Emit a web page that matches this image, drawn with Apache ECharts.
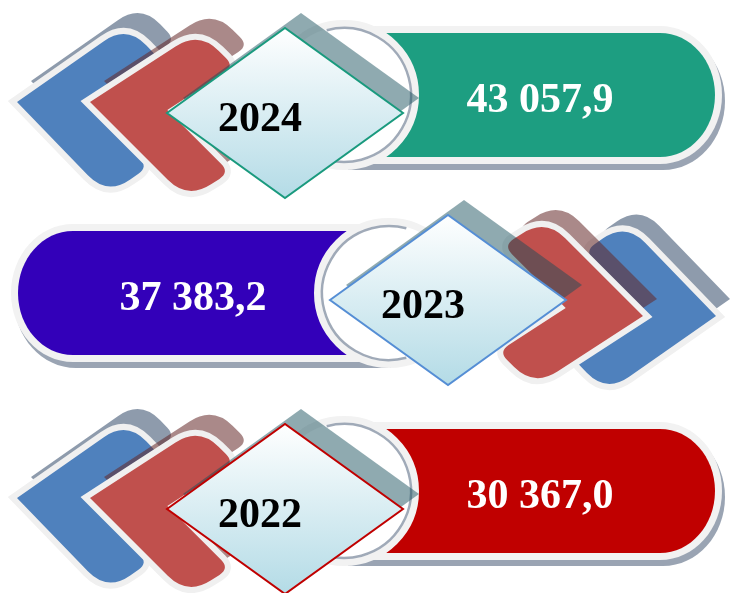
<!doctype html>
<html lang="ru">
<head>
    <meta charset="UTF-8">
    <title>Показатели по годам</title>
    <script src="https://cdn.jsdelivr.net/npm/echarts@6/dist/echarts.min.js"></script>
    <style>
        html, body { margin: 0; padding: 0; background: #fff; }
        #main { width: 733px; height: 593px; }
    </style>
</head>
<body>
<div id="main"></div>
<script type="text/javascript">
    // данные
    var years = ['2024', '2023', '2022'];
    var values = [43057.9, 37383.2, 30367.0];
    var bannerColors = ['#1d9e81', '#3300b9', '#c00000'];
    var frameColors = ['#1a9a7e', '#558ed5', '#c00000'];

    // оформление (в координатах первой строки, вторая строка зеркальная)
    var chevrons = [
        { tipX: 17, angU: 35, angV: 46, lu: 134, lv: 130, fill: '#4f81bd', back: 'rgba(30,55,90,0.5)' },
        { tipX: 90, angU: 33, angV: 45, lu: 130, lv: 138, fill: '#c0504d', back: 'rgba(100,40,40,0.55)' }
    ];
    var chevT = 50, chevR = 28, chevRi = 12;

    var fmt = function (v) {
        var s = v.toFixed(1).split('.');
        return s[0].replace(/\B(?=(\d{3})+(?!\d))/g, ' ') + ',' + s[1];
    };

    var toward = function (p, q, r) {
        var dx = q[0] - p[0], dy = q[1] - p[1];
        var len = Math.sqrt(dx * dx + dy * dy);
        return [p[0] + dx / len * r, p[1] + dy / len * r];
    };

    // многоугольник со скруглёнными углами
    var roundPath = function (pts, radii) {
        var n = pts.length, d = '';
        for (var i = 0; i < n; i++) {
            var p = pts[i], r = radii[i];
            if (!r) {
                d += (i ? 'L' : 'M') + p[0] + ' ' + p[1] + ' ';
                continue;
            }
            var a = toward(p, pts[(i + n - 1) % n], r);
            var b = toward(p, pts[(i + 1) % n], r);
            d += (i ? 'L' : 'M') + a[0] + ' ' + a[1] + ' Q' + p[0] + ' ' + p[1] + ' ' + b[0] + ' ' + b[1] + ' ';
        }
        return d + 'Z';
    };

    var chevronPath = function (tx, ty, sgn, c) {
        var au = c.angU * Math.PI / 180, av = c.angV * Math.PI / 180;
        var eu = [sgn * Math.cos(au), -sgn * Math.sin(au)];
        var ev = [sgn * Math.cos(av), sgn * Math.sin(av)];
        var uv = [[0, 0], [c.lu, 0], [c.lu, chevT], [chevT, chevT], [chevT, c.lv], [0, c.lv]];
        var pts = uv.map(function (q) {
            return [tx + q[0] * eu[0] + q[1] * ev[0], ty + q[0] * eu[1] + q[1] * ev[1]];
        });
        return roundPath(pts, [0, chevR, chevRi, 0, chevRi, chevR]);
    };

    var bannerPath = function (mx, x0, x1, rx, ry, cy, dx, dy) {
        var k = 0.5523;
        var P = function (x, y) { return (mx(x) + dx) + ' ' + (y + dy); };
        return 'M' + P(x0, cy - ry) + ' L' + P(x1, cy - ry) +
            ' C' + P(x1 + k * rx, cy - ry) + ' ' + P(x1 + rx, cy - k * ry) + ' ' + P(x1 + rx, cy) +
            ' C' + P(x1 + rx, cy + k * ry) + ' ' + P(x1 + k * rx, cy + ry) + ' ' + P(x1, cy + ry) +
            ' L' + P(x0, cy + ry) + ' Z';
    };

    var renderRow = function (params, api) {
        var i = api.value(1);
        var cy = api.coord([0, i])[1];
        var W = api.getWidth();
        var flip = i % 2 === 1;
        var mx = function (x) { return flip ? W - x : x; };
        var rad = Math.PI / 180;
        var kids = [];

        // лента со значением
        kids.push({ type: 'path', shape: { pathData: bannerPath(mx, 345, 660, 62, 69, cy, 3, 6) }, style: { fill: '#9aa4b3' } });
        kids.push({ type: 'path', shape: { pathData: bannerPath(mx, 345, 660, 62, 69, cy, 0, 0) }, style: { fill: '#f2f2f2' } });
        kids.push({ type: 'path', shape: { pathData: bannerPath(mx, 345, 660, 55, 62, cy, 0, 0) }, style: { fill: bannerColors[i] } });
        kids.push({ type: 'circle', shape: { cx: mx(344), cy: cy, r: 71.5 }, style: { fill: '#fff', stroke: '#f2f2f2', lineWidth: 7 } });
        kids.push({
            type: 'arc',
            shape: { cx: mx(344), cy: cy, r: 67, startAngle: (flip ? 75 : -105) * rad, endAngle: (flip ? 285 : 105) * rad, clockwise: true },
            style: { fill: 'none', stroke: '#a0aab8', lineWidth: 2.5 }
        });
        kids.push({
            type: 'text', x: mx(540), y: cy + 6,
            style: { text: fmt(values[i]), fill: '#fff', font: 'bold 42px "Liberation Serif", "Times New Roman", serif', align: 'center', verticalAlign: 'middle' }
        });

        // стрелки
        var tipY = cy + (flip ? 23 : 7);
        var backOff = flip ? [14, -17] : [14, -21];
        chevrons.forEach(function (c) {
            var tx = mx(c.tipX), sgn = flip ? -1 : 1;
            kids.push({ type: 'path', shape: { pathData: chevronPath(tx + backOff[0], tipY + backOff[1], sgn, c) }, style: { fill: c.back } });
            kids.push({ type: 'path', shape: { pathData: chevronPath(tx, tipY, sgn, c) }, style: { fill: '#f0f0f0', stroke: '#f0f0f0', lineWidth: 12, lineJoin: 'miter' } });
            kids.push({ type: 'path', shape: { pathData: chevronPath(tx, tipY, sgn, c) }, style: { fill: c.fill } });
        });

        // ромб с годом
        var dcx = mx(285), dcy = cy + (flip ? 7 : 18), hw = 118, hh = 85;
        var dpts = function (ox, oy) {
            return [[dcx - hw + ox, dcy + oy], [dcx + ox, dcy - hh + oy], [dcx + hw + ox, dcy + oy], [dcx + ox, dcy + hh + oy]];
        };
        kids.push({ type: 'polygon', shape: { points: dpts(16, -15) }, style: { fill: 'rgba(20,78,90,0.48)' } });
        kids.push({
            type: 'polygon', shape: { points: dpts(0, 0) },
            style: {
                fill: new echarts.graphic.LinearGradient(0, 0, 0, 1, [{ offset: 0, color: '#ffffff' }, { offset: 1, color: '#b3dbe6' }]),
                stroke: frameColors[i], lineWidth: 2
            }
        });
        kids.push({
            type: 'text', x: dcx - 25, y: dcy + 7,
            style: { text: years[i], fill: '#000', font: 'bold 42px "Liberation Serif", "Times New Roman", serif', align: 'center', verticalAlign: 'middle' }
        });

        return { type: 'group', children: kids };
    };

    var myChart = echarts.init(document.getElementById('main'));
    var option = {
        animation: false,
        grid: { left: 0, right: 0, top: 95, bottom: 102 },
        xAxis: { type: 'value', min: 0, max: 733, show: false },
        yAxis: { type: 'category', data: years, boundaryGap: false, inverse: true, show: false },
        series: [{
            type: 'custom',
            clip: false,
            renderItem: renderRow,
            data: years.map(function (y, i) { return [0, i]; })
        }]
    };
    myChart.setOption(option);
</script>
</body>
</html>
